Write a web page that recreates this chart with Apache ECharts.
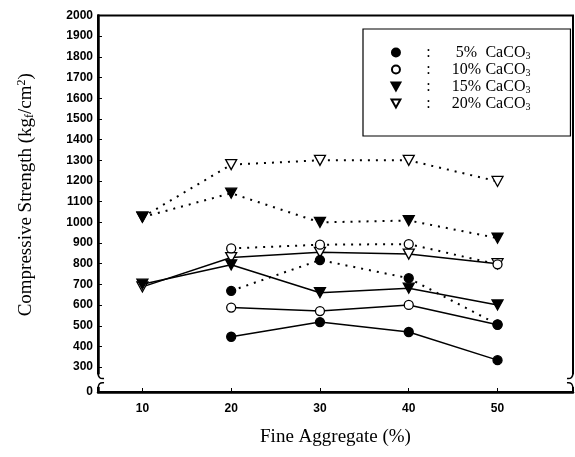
<!DOCTYPE html>
<html>
<head>
<meta charset="utf-8">
<script src="https://cdn.jsdelivr.net/npm/echarts@6/dist/echarts.min.js"></script>
<style>
    html, body {margin: 0; padding: 0; background: #fff;}
    #main {width: 575px; height: 457px;}
</style>
</head>
<body>
<div id="main"></div>
<script>
// fine aggregate (%) on x
const fineAgg = [10, 20, 30, 40, 50];

// compressive strength, kgf/cm2 ; solid and dotted curves per CaCO3 content
const ca5Solid = [null, 447, 518, 470, 334];
const ca5Dotted = [null, 669, 818, 730, 507];
const ca10Solid = [null, 588, 571, 601, 505];
const ca10Dotted = [null, 874, 892, 895, 797];
const ca15Solid = [701, 795, 660, 682, 601];
const ca15Dotted = [1025, 1141, 1000, 1009, 924];
const ca20Solid = [688, 830, 855, 847, 800];
const ca20Dotted = [1025, 1279, 1300, 1300, 1198];

// tick labels (axis is broken below 300, bottom shown as 0)
const xTicks = [10, 20, 30, 40, 50];
const yTicks = [300, 400, 500, 600, 700, 800, 900, 1000, 1100, 1200, 1300, 1400, 1500, 1600, 1700, 1800, 1900, 2000];
const Y_BOTTOM = 180;
const X_MIN = 5, X_MAX = 58.5;

const TRI_DOWN = 'path://M0,0L10,0L5,9Z';
const SERIF = '"Liberation Serif", "DejaVu Serif", serif';
const SANS = '"Liberation Sans", Arial, sans-serif';

function pairs(values) {
    let out = [];
    for (let i = 0; i < fineAgg.length; i++) {
        if (values[i] !== null) out.push([fineAgg[i], values[i]]);
    }
    return out;
}

function makeSeries(name, values, symbol, filled, dotted) {
    return {
        name: name,
        type: 'line',
        data: pairs(values),
        symbol: symbol,
        symbolSize: symbol === 'circle' ? 9 : [11, 10],
        showSymbol: true,
        itemStyle: {
            color: filled ? '#000' : '#fff',
            borderColor: '#000',
            borderWidth: 1.3
        },
        lineStyle: dotted ? {color: '#000', width: 2, type: [2, 6]} : {color: '#000', width: 1.5},
        emphasis: {disabled: true},
        z: filled ? 3 : 2
    };
}

let myChart = echarts.init(document.getElementById('main'));

let option = {
    animation: false,
    backgroundColor: '#fff',
    grid: {
        left: 98, right: 2, top: 15.5, bottom: 65,
        outerBoundsMode: 'none',
        show: true, borderColor: '#000', borderWidth: 2
    },
    legend: {
        orient: 'vertical',
        left: 363, top: 29,
        padding: [15, 40, 24, 27.5],
        itemGap: 0,
        itemWidth: 9, itemHeight: 8,
        borderColor: '#000', borderWidth: 1.2,
        selectedMode: false,
        data: [
            {name: '5%', icon: 'circle'},
            {name: '10%', icon: 'circle'},
            {name: '15%', icon: TRI_DOWN},
            {name: '20%', icon: TRI_DOWN}
        ],
        formatter: function (name) {
            return '{c|:}{n|' + name + '}{t| CaCO}{s|3}';
        },
        textStyle: {
            fontFamily: SERIF, fontSize: 16, color: '#000', lineHeight: 17,
            rich: {
                c: {width: 46, align: 'center', fontFamily: SERIF, fontSize: 16, lineHeight: 17},
                n: {width: 30, align: 'right', fontFamily: SERIF, fontSize: 16, lineHeight: 17},
                t: {fontFamily: SERIF, fontSize: 16, lineHeight: 17},
                s: {fontFamily: SERIF, fontSize: 10, lineHeight: 8, verticalAlign: 'bottom'}
            }
        }
    },
    xAxis: {
        type: 'value',
        min: X_MIN, max: X_MAX,
        name: 'Fine Aggregate (%)',
        nameLocation: 'middle',
        nameGap: 36,
        nameTextStyle: {fontFamily: SERIF, fontSize: 19, color: '#000'},
        axisLine: {lineStyle: {color: '#000', width: 2.5}},
        axisTick: {inside: true, length: 4, customValues: xTicks, lineStyle: {color: '#000'}},
        axisLabel: {
            color: '#000', fontFamily: SANS, fontWeight: 'bold', fontSize: 12, margin: 11,
            customValues: xTicks
        },
        splitLine: {show: false}
    },
    yAxis: {
        type: 'value',
        min: Y_BOTTOM, max: 2000,
        name: '{a|Compressive Strength (kg}{b|f}{a|/cm}{c|2}{a|)}',
        nameLocation: 'middle',
        nameGap: 62,
        nameTextStyle: {
            color: '#000',
            padding: [0, 0, 0, 18],
            rich: {
                a: {fontFamily: SERIF, fontSize: 19, color: '#000', lineHeight: 20},
                b: {fontFamily: SERIF, fontSize: 12, color: '#000', lineHeight: 8, verticalAlign: 'bottom'},
                c: {fontFamily: SERIF, fontSize: 12, color: '#000', lineHeight: 8, verticalAlign: 'top'}
            }
        },
        axisLine: {lineStyle: {color: '#000', width: 2.5}},
        axisTick: {inside: true, length: 4, customValues: yTicks, lineStyle: {color: '#000'}},
        axisLabel: {
            color: '#000', fontFamily: SANS, fontWeight: 'bold', fontSize: 12, margin: 5,
            customValues: [Y_BOTTOM].concat(yTicks),
            formatter: function (v) { return v === Y_BOTTOM ? '0' : v; }
        },
        splitLine: {show: false}
    },
    series: [
        makeSeries('20%', ca20Solid, TRI_DOWN, false, false),
        makeSeries('20%', ca20Dotted, TRI_DOWN, false, true),
        makeSeries('10%', ca10Solid, 'circle', false, false),
        makeSeries('10%', ca10Dotted, 'circle', false, true),
        makeSeries('15%', ca15Solid, TRI_DOWN, true, false),
        makeSeries('15%', ca15Dotted, TRI_DOWN, true, true),
        makeSeries('5%', ca5Solid, 'circle', true, false),
        makeSeries('5%', ca5Dotted, 'circle', true, true)
    ]
};

if (option && typeof option === "object") {
    myChart.setOption(option, true);
}

// axis break marks on left and right frame
function breakMarks(xVal, dir) {
    let top = myChart.convertToPixel({gridIndex: 0}, [xVal, 265]);
    let bot = myChart.convertToPixel({gridIndex: 0}, [xVal, 205]);
    let x = top[0], ya = top[1], yb = bot[1];
    let s = {stroke: '#000', lineWidth: 1.5, fill: null};
    return [
        {type: 'rect', shape: {x: x - 3, y: ya, width: 6, height: yb - ya}, style: {fill: '#fff'}, z: 100},
        {type: 'bezierCurve', shape: {x1: x, y1: ya - 2, cpx1: x, cpy1: ya + 5, x2: x + 6 * dir, y2: ya + 4}, style: s, z: 101},
        {type: 'bezierCurve', shape: {x1: x + 6 * dir, y1: yb - 4, cpx1: x, cpy1: yb - 5, x2: x, y2: yb + 2}, style: s, z: 101}
    ];
}

myChart.setOption({graphic: breakMarks(X_MIN, 1).concat(breakMarks(X_MAX, -1))});
</script>
</body>
</html>
